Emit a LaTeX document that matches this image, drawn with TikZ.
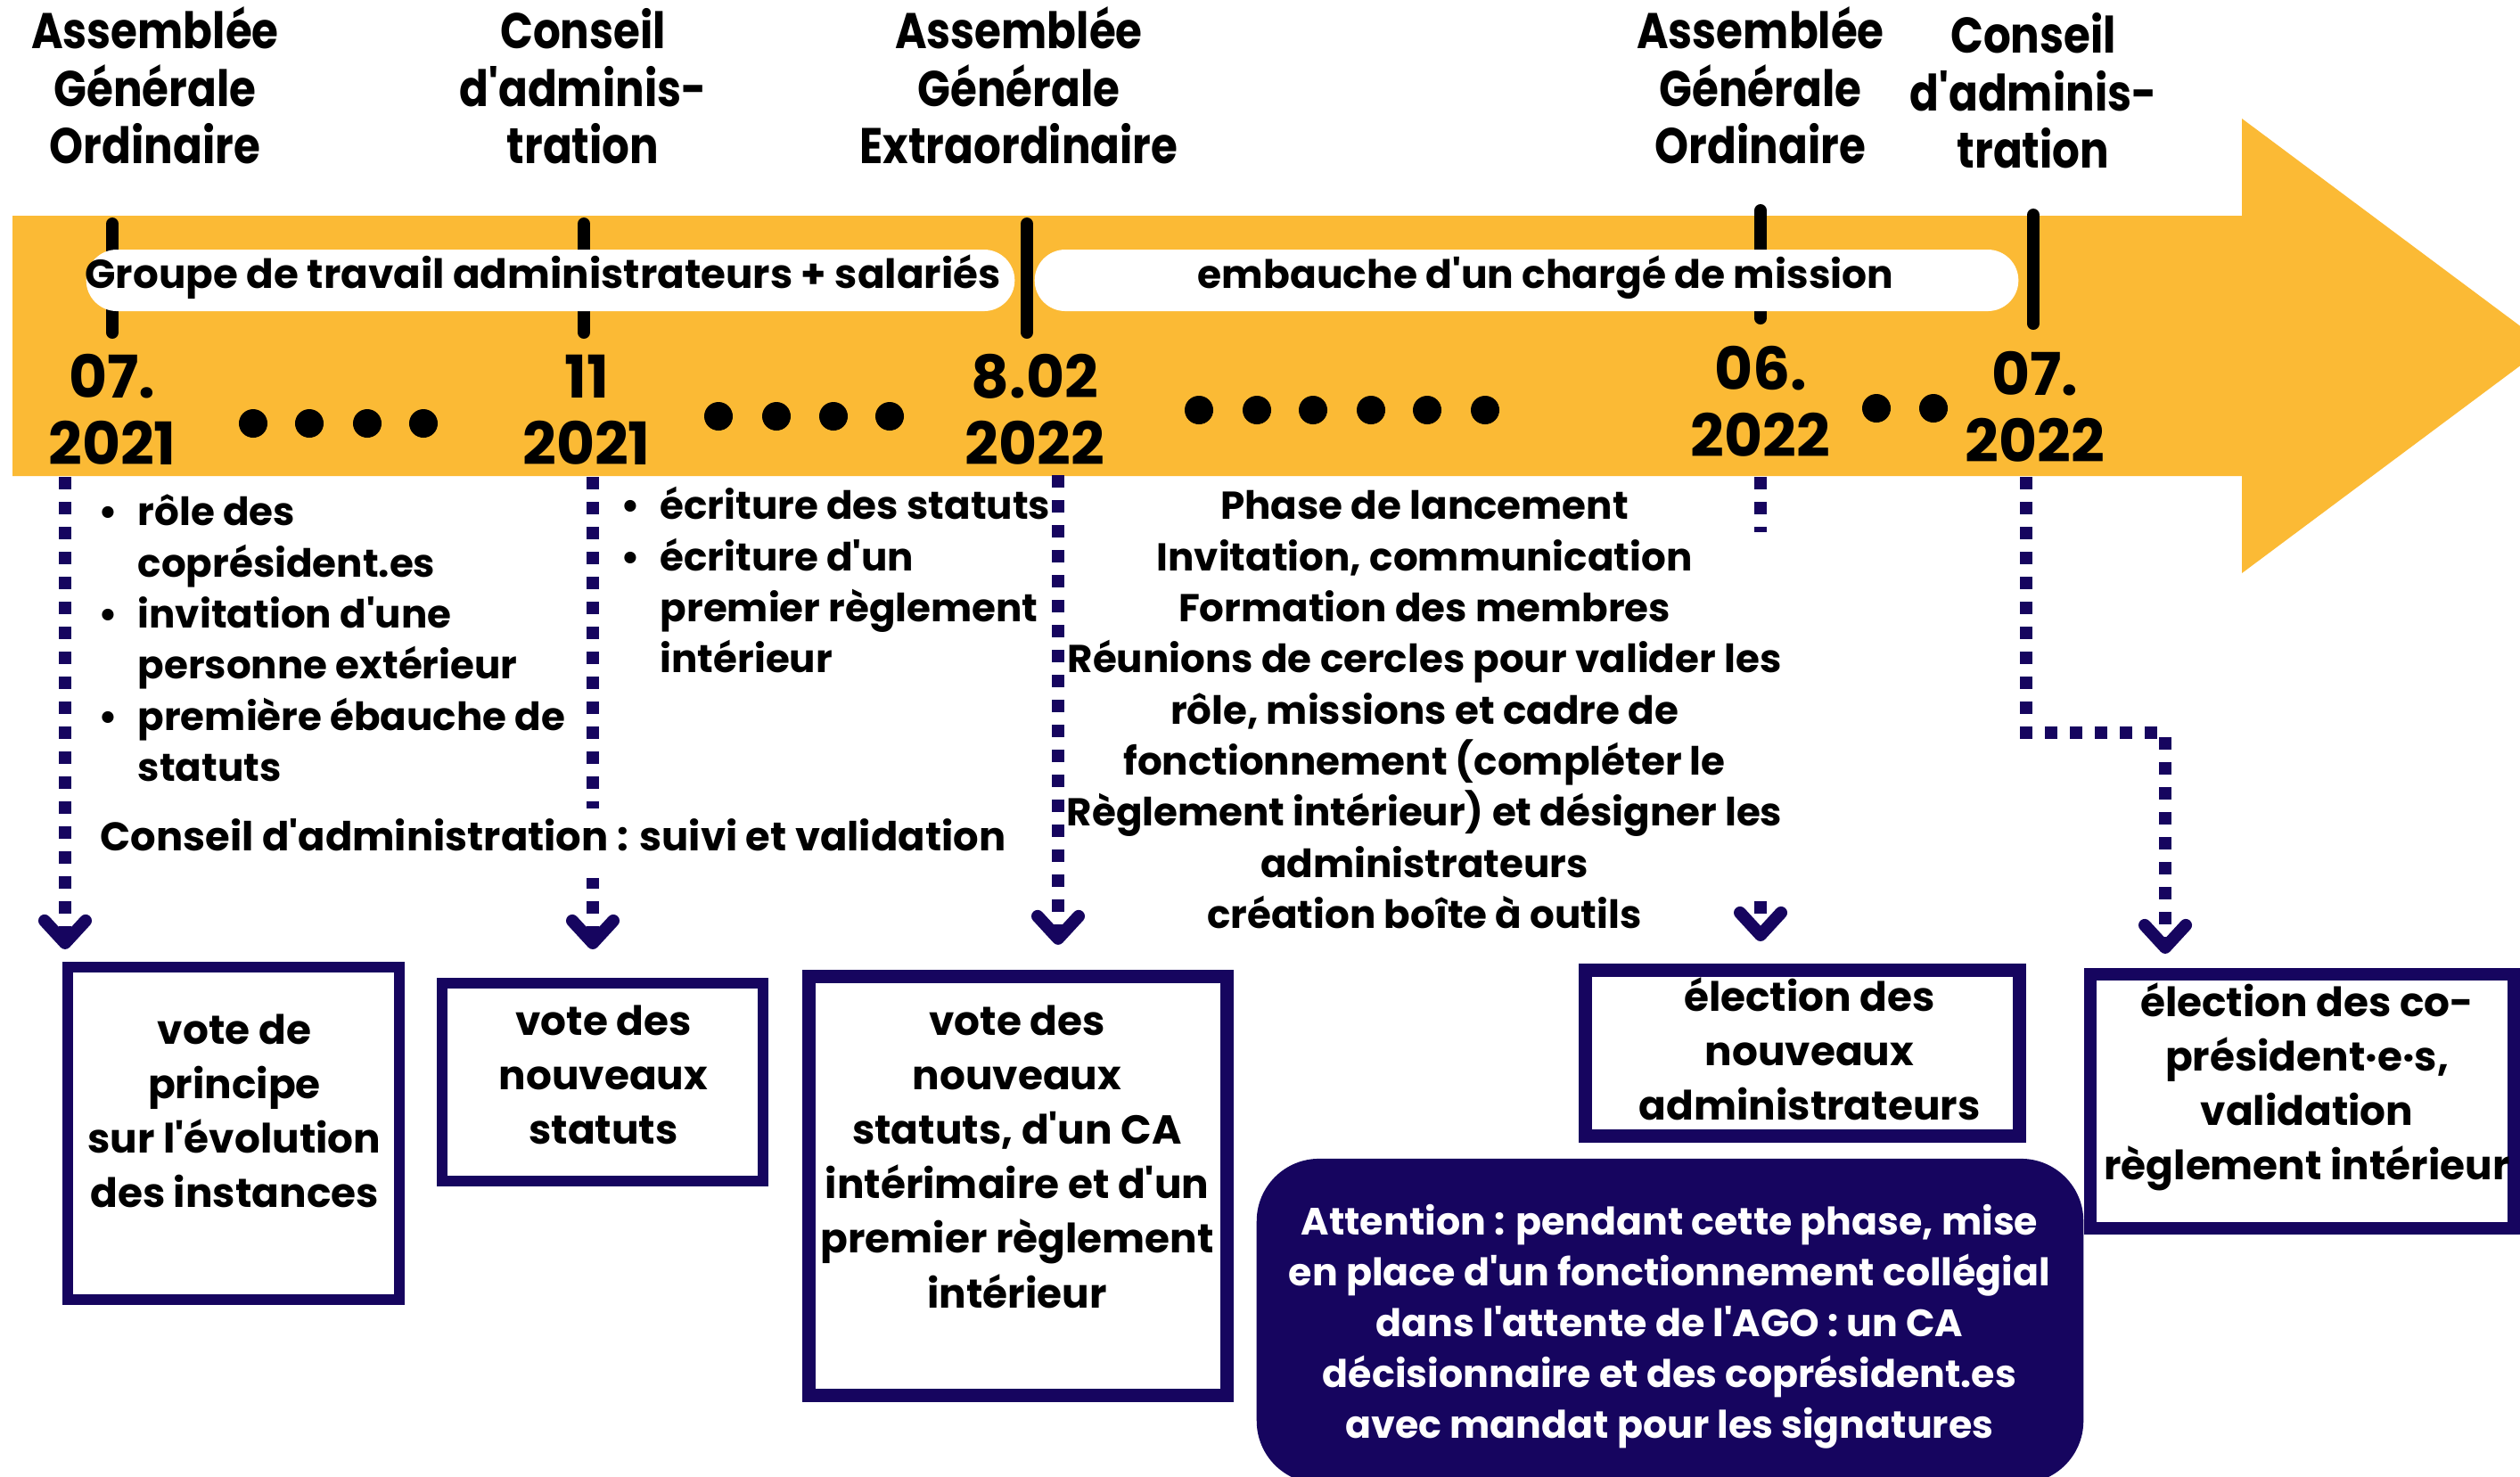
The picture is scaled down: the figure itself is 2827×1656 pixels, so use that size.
\documentclass[tikz,border=0pt]{standalone}
\usepackage{fontspec}
\setmainfont{Poppins}[Ligatures=TeXOff]
\newfontfamily\hdrfam{Poppins}[Ligatures=TeXOff, FakeStretch=0.86]
\usetikzlibrary{arrows.meta,calc}
\definecolor{ylw}{HTML}{FBBA35}
\definecolor{navy}{HTML}{16055F}
\newcommand\bodyfont{\fontsize{12.4pt}{16.3pt}\selectfont\bfseries}
\newcommand\hdrfont{\hdrfam\fontsize{16pt}{18.35pt}\selectfont\bfseries}
\newcommand\datefont{\fontsize{18.8pt}{21.3pt}\selectfont\bfseries}
\newcommand\boxfont{\fontsize{12.9pt}{17.36pt}\selectfont\bfseries}
\newcommand\attfont{\fontsize{12.15pt}{16.2pt}\selectfont\bfseries}
\newcommand\tstrut{\rule{0pt}{0.6cm}}
\newcommand\bulx{\makebox[0.44cm][l]{\textbullet}}
\newcommand\indx{\hspace*{0.44cm}}
\tikzset{
  txt/.style={inner sep=0pt, align=center, anchor=north},
  hdr/.style={txt, font=\hdrfont},
  datelbl/.style={txt, font=\datefont},
  bodytxt/.style={txt, font=\bodyfont},
  boxtxt/.style={txt, font=\boxfont},
  tick/.style={line width=0.14cm, line cap=round, black},
  pill/.style={fill=white, rounded corners=0.345cm, inner sep=0pt},
  bx/.style={draw=navy, fill=white, inner sep=0pt},
  dsh/.style={draw=navy, line width=0.14cm, dash pattern=on 0.14cm off 0.14cm,
    -{Straight Barb[length=0.25cm, width=0.46cm, round]}},
}
\begin{document}
\begin{tikzpicture}[x=0.01cm, y=-0.01cm]
\useasboundingbox (0,0) rectangle (2827,1656);
\clip (0,0) rectangle (2827,1656);

% main arrow band
\fill[ylw] (14,242) -- (2515,242) -- (2515,133) -- (2857,388) -- (2515,643) -- (2515,534) -- (14,534) -- cycle;

% ticks behind pills
\draw[tick] (126,251) -- (126,373);
\draw[tick] (655,251) -- (655,373);
\draw[tick] (1975,236) -- (1975,357);

% pills
\node[pill, minimum width=10.41cm, minimum height=0.69cm] (p1) at (617.5,314.5) {};
\node[pill, minimum width=11.03cm, minimum height=0.69cm] (p2) at (1712.5,314.5) {};
\node[inner sep=0pt, anchor=base, font=\fontsize{12.85pt}{16pt}\selectfont\bfseries] (p1t) at (609,323) {Groupe de travail administrateurs + salariés};
\node[inner sep=0pt, anchor=base, font=\fontsize{12.5pt}{16pt}\selectfont\bfseries] (p2t) at (1734,323) {embauche d'un chargé de mission};

\draw[tick] (1152,251) -- (1152,373);
\draw[tick] (2281,241) -- (2281,363);

% dots
\foreach \x in {284,347,412,475} \fill (\x,475) circle (0.16cm);
\foreach \x in {806,871,935,998} \fill (\x,467) circle (0.16cm);
\foreach \x in {1345,1410,1473,1538,1601,1666} \fill (\x,460) circle (0.16cm);
\foreach \x in {2105,2169} \fill (\x,458) circle (0.16cm);

% headers
\node[hdr] (h1) at (174,-6) {\tstrut Assemblée\\Générale\\Ordinaire};
\node[hdr] (h2) at (654,-6) {\tstrut Conseil\\d'adminis-\\tration};
\node[hdr] (h3) at (1143,-6) {\tstrut Assemblée\\Générale\\Extraordinaire};
\node[hdr] (h4) at (1975,-6) {\tstrut Assemblée\\Générale\\Ordinaire};
\node[hdr] (h5) at (2281,-1) {\tstrut Conseil\\d'adminis-\\tration};

% dates
\node[datelbl] (d1) at (126,386) {\tstrut 07.\\2021};
\node[datelbl] (d2) at (658,386) {\tstrut 11\\2021};
\node[datelbl] (d3) at (1161,386) {\tstrut 8.02\\2022};
\node[datelbl] (d4) at (1975,377) {\tstrut 06.\\2022};
\node[datelbl] (d5) at (2283,383) {\tstrut 07.\\2022};

% boxes
\node[bx, line width=0.125cm, minimum width=3.715cm, minimum height=3.725cm] (b1) at (262,1271.5) {};
\node[bx, line width=0.12cm, minimum width=3.60cm, minimum height=2.22cm] (b2) at (676,1214) {};
\node[bx, line width=0.15cm, minimum width=4.69cm, minimum height=4.70cm] (b3) at (1142,1330.5) {};
\node[bx, line width=0.15cm, minimum width=4.87cm, minimum height=1.86cm] (b4) at (2022,1181.5) {};
\node[bx, line width=0.14cm, minimum width=4.75cm, minimum height=2.85cm] (b5) at (2582.5,1235.5) {};
\node[fill=navy, rounded corners=0.7cm, inner sep=0pt, minimum width=9.27cm, minimum height=3.64cm] (att) at (1873.5,1482) {};

% dashed connectors
\coordinate (s1) at (73,535);
\coordinate (s2) at (665,535);
\coordinate (s3) at (1187,533);
\coordinate (s4) at (1975,535);
\coordinate (s5) at (2273,535);
\coordinate (k5) at (2429,822);
\draw[dsh] (s1) -- ($(s1 |- b1.north)+(0,-14)$);
\draw[dsh] (s2) -- ($(s2 |- b2.north)+(0,-32)$);
\draw[dsh] (s3) -- ($(s3 |- b3.north)+(0,-28)$);
\draw[dsh] (s4) -- ($(s4 |- b4.north)+(0,-25)$);
\draw[dsh] (s5) |- (k5) -- ($(k5 |- b5.north)+(0,-16)$);
\fill[white] (1950,597) rectangle (2000,1008);

% free texts
\node[bodytxt, anchor=north west, align=left] (l1) at (110,529) {\tstrut\bulx rôle des\\\indx coprésident.es\\\bulx invitation d'une\\\indx personne extérieur\\\bulx première ébauche de\\\indx statuts};
\node[bodytxt, anchor=north west, align=left] (l2) at (696,522) {\tstrut\bulx écriture des statuts\\\bulx écriture d'un\\\indx premier règlement\\\indx intérieur};
\node[fill=white, inner sep=0pt, text height=0.47cm, text depth=0.31cm, anchor=base west, font=\fontsize{12.75pt}{16pt}\selectfont\bfseries] (ca) at (112,954) {Conseil d'administration : suivi et validation};
\node[bodytxt] (ph) at (1598,522) {\tstrut Phase de lancement\\Invitation, communication\\Formation des membres\\Réunions de cercles pour valider les\\rôle, missions et cadre de\\fonctionnement (compléter le\\Règlement intérieur) et désigner les\\administrateurs\\création boîte à outils};

% box texts
\node[boxtxt] (b1t) at (263,1111) {\tstrut vote de\\principe\\sur l'évolution\\des instances};
\node[boxtxt] (b2t) at (677,1101) {\tstrut vote des\\nouveaux\\statuts};
\node[boxtxt] (b3t) at (1141,1101) {\tstrut vote des\\nouveaux\\statuts, d'un CA\\intérimaire et d'un\\premier règlement\\intérieur};
\node[boxtxt] (b4t) at (2030,1074) {\tstrut élection des\\nouveaux\\administrateurs};
\node[boxtxt] (b5t) at (2588,1080) {\tstrut élection des co-\\président·e·s,\\validation\\règlement intérieur};
\node[txt, font=\attfont, text=white] (attt) at (1873,1325) {\tstrut Attention : pendant cette phase, mise\\en place d'un fonctionnement collégial\\dans l'attente de l'AGO : un CA\\décisionnaire et des coprésident.es\\avec mandat pour les signatures};
\end{tikzpicture}
\end{document}
